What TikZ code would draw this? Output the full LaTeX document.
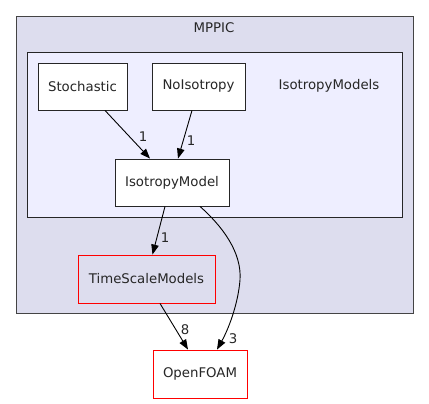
\documentclass[tikz,border=0pt]{standalone}
\usepackage{fontspec}
\setmainfont{DejaVu Sans}
\usetikzlibrary{arrows.meta,calc}
\definecolor{outerbg}{HTML}{DDDDEE}
\definecolor{innerbg}{HTML}{EEEEFF}
\definecolor{bordergray}{HTML}{444444}
\begin{document}
\begin{tikzpicture}[x=1pt,y=-1pt,
  every node/.style={font=\fontsize{13.3}{16}\selectfont, text=black!85},
  dirbox/.style={draw=black!85, line width=0.9pt, fill=white, minimum height=47pt, inner sep=0pt},
  redbox/.style={draw=red, line width=0.9pt, minimum height=48pt, inner sep=0pt},
  edgelbl/.style={font=\fontsize{13.3}{16}\selectfont, inner sep=1pt},
  dep/.style={line width=0.9pt, -{Triangle[length=10pt,width=7.5pt]}}]
\useasboundingbox (0,0) rectangle (429,404);
% clusters
\node[draw=bordergray, fill=outerbg, line width=1pt, minimum width=397pt, minimum height=297pt, inner sep=0pt, anchor=north west] (mppic) at (16,16) {};
\node (mppiclbl) at (214,28) {MPPIC};
\node[draw=black!85, fill=innerbg, line width=1pt, minimum width=375pt, minimum height=165pt, inner sep=0pt, anchor=north west] (isomodels) at (27,52) {};
\node (isolbl) at (329,86) {IsotropyModels};
% nodes
\node[dirbox, minimum width=89pt] (stoch) at (82.5,86.5) {Stochastic};
\node[dirbox, minimum width=93pt] (noiso) at (198.5,86.5) {NoIsotropy};
\node[dirbox, minimum width=114pt] (iso) at (172,182.5) {IsotropyModel};
\node[redbox, fill=outerbg, minimum width=137pt] (tsm) at (146.5,279) {TimeScaleModels};
\node[redbox, fill=white, minimum width=94pt] (of) at (200,374) {OpenFOAM};
% edges
\draw[dep] ($(stoch.south)+(22.5,0)$) -- ($(iso.north)+(-22,0)$);
\node[edgelbl] (l1) at (143,137) {1};
\node[edgelbl] at (191,141) {1};
\draw[dep] ($(noiso.south)+(-6.5,0)$) -- ($(iso.north)+(6,0)$);
\draw[dep] ($(iso.south)+(-7,0)$) -- ($(tsm.north)+(6,0)$);
\node[edgelbl] at (165,238) {1};
\draw[dep] ($(iso.south)+(28,0)$) .. controls (222,226) and (242,252) .. (240,280) .. controls (238,305) and (228,330) .. ($(of.north)+(17,0)$);
\node[edgelbl] at (233,339) {3};
\draw[dep] ($(tsm.south)+(13.5,0)$) -- ($(of.north)+(-12,0)$);
\node[edgelbl] at (185,330) {8};
\end{tikzpicture}
\end{document}
